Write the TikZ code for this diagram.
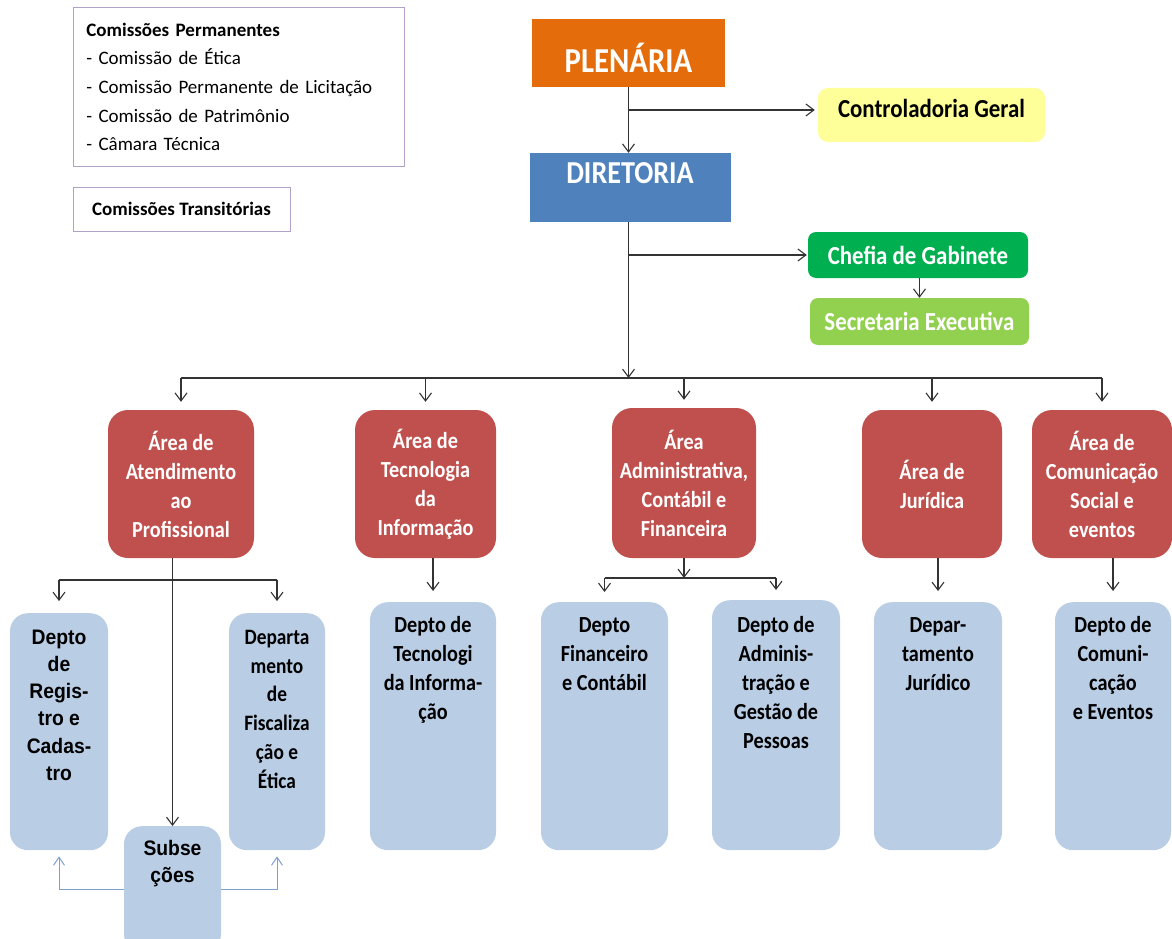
\documentclass[tikz,border=0pt]{standalone}
\usepackage{fontspec}
\setmainfont{Carlito}
\newfontfamily\narrowfont{Carlito}[FakeStretch=0.88]
\newfontfamily\arialnarrow{Liberation Sans}[FakeStretch=0.92]
\usetikzlibrary{arrows.meta}

\definecolor{plenorange}{HTML}{E46C0A}
\definecolor{dirblue}{HTML}{4F81BD}
\definecolor{ctrlyellow}{HTML}{FFFF99}
\definecolor{chefgreen}{HTML}{00B050}
\definecolor{secgreen}{HTML}{92D050}
\definecolor{areared}{HTML}{C0504D}
\definecolor{deptblue}{HTML}{B9CDE5}
\definecolor{lilac}{HTML}{B3A2C7}
\definecolor{subblue}{HTML}{7F9FCF}

\newcommand{\toplines}[4]{\parbox[t][#2][t]{#1}{\centering\rule{0pt}{#3}#4}}

\tikzset{
  conn/.style={black!80, line width=1.1pt},
  arr/.style={conn, -{Straight Barb[length=8pt,width=12pt]}},
  subarr/.style={subblue, line width=1pt, -{Straight Barb[length=8pt,width=11pt]}},
  comm/.style={draw=lilac, line width=0.8pt, inner xsep=13pt},
  topbox/.style={text=white, font=\narrowfont\bfseries\fontsize{26}{30}\selectfont},
  area/.style={fill=areared, text=white, rounded corners=20pt, align=center,
    font=\narrowfont\bfseries\fontsize{23}{29}\selectfont},
  dept/.style={fill=deptblue, rounded corners=18pt, inner sep=0pt, anchor=north,
    font=\narrowfont\bfseries\fontsize{23}{29}\selectfont},
  deptarial/.style={dept, font=\arialnarrow\bfseries\fontsize{21}{27.2}\selectfont}
}

\begin{document}
\begin{tikzpicture}[x=1pt,y=-1pt]
    \useasboundingbox (0,0) rectangle (1172,939);
    \fill[white] (0,0) rectangle (1172,939);
    \clip (0,0) rectangle (1172,939);

    \node[comm, anchor=north west, text width=305pt, minimum height=159pt, align=left,
      font=\fontsize{19}{28.7}\selectfont] (perm) at (73,7)
      {\textbf{Comissões Permanentes}\\- Comissão de Ética\\- Comissão Permanente de Licitação\\- Comissão de Patrimônio\\- Câmara Técnica};
    \node[comm, minimum width=217pt, minimum height=44pt, font=\bfseries\fontsize{19}{24}\selectfont] (trans) at (181.5,209) {Comissões Transitórias};

    \node[fill=plenorange, text=white, minimum width=193pt, minimum height=68pt, text height=39pt, text depth=0pt,
      font=\narrowfont\bfseries\fontsize{35}{40}\selectfont] (plen) at (628.5,53) {PLENÁRIA};
    \node[fill=dirblue, text=white, minimum width=201pt, minimum height=69pt, text height=21pt, text depth=29pt,
      font=\narrowfont\bfseries\fontsize{32}{36}\selectfont] (dir) at (630,187.5) {DIRETORIA};
    \node[topbox, fill=ctrlyellow, text=black, rounded corners=10pt, minimum width=227pt, minimum height=54pt,
      text height=17pt, text depth=12pt] (ctrl) at (931.5,115) {Controladoria Geral};
    \node[topbox, fill=chefgreen, rounded corners=8pt, minimum width=220pt, minimum height=46pt] (chefe) at (918,255) {Chefia de Gabinete};
    \node[topbox, fill=secgreen, rounded corners=8pt, minimum width=219pt, minimum height=47pt] (sec) at (919.5,321.5) {Secretaria Executiva};

    \node[area, minimum width=146pt, minimum height=148pt] (a1) at (181,484) {Área de\\Atendimento\\ao\\Profissional};
    \node[area, minimum width=141pt, minimum height=148pt] (a2) at (425.5,484) {Área de\\Tecnologia\\da\\Informação};
    \node[area, minimum width=144pt, minimum height=150pt] (a3) at (684,483) {Área\\Administrativa,\\Contábil e\\Financeira};
    \node[area, minimum width=140pt, minimum height=148pt] (a4) at (932,484) {Área de\\Jurídica};
    \node[area, minimum width=140pt, minimum height=148pt] (a5) at (1102,484) {Área de\\Comunicação\\Social e\\eventos};

    \node[deptarial] (d1) at (59,613) {\toplines{98pt}{237pt}{31pt}{Depto\\de\\Regis-\\tro e\\Cadas-\\tro}};
    \node[dept, font=\narrowfont\bfseries\fontsize{22}{28.8}\selectfont] (d2) at (277,613) {\toplines{96pt}{237pt}{31pt}{Departa\\mento\\de\\Fiscaliza\\ção e\\Ética}};
    \node[deptarial] (sub) at (172.5,826) {\toplines{97pt}{126pt}{29pt}{Subse\\ções}};
    \node[dept] (d3) at (433,602) {\toplines{126pt}{248pt}{30pt}{Depto de\\Tecnologi\\da Informa-\\ção}};
    \node[dept] (d4) at (604.5,602) {\toplines{127pt}{248pt}{30pt}{Depto\\Financeiro\\e Contábil}};
    \node[dept] (d5) at (776,600) {\toplines{128pt}{250pt}{32pt}{Depto de\\Adminis-\\tração e\\Gestão de\\Pessoas}};
    \node[dept] (d6) at (938,602) {\toplines{128pt}{248pt}{30pt}{Depar-\\tamento\\Jurídico}};
    \node[dept] (d7) at (1113,602) {\toplines{116pt}{248pt}{30pt}{Depto de\\Comuni-\\cação\\e Eventos}};

    \coordinate (bus) at (628.5,378);
    \coordinate (fork1) at (172.5,580);
    \coordinate (fork3) at (684,578);

    \draw[arr] (plen.south) -- (plen.south |- dir.north);
    \draw[arr, shorten >=3pt] (plen.south |- 0,110) -- (ctrl.west |- 0,110);
    \draw[arr] (plen.south |- dir.south) -- (bus);
    \draw[arr, shorten >=1pt] (bus |- chefe.west) -- (chefe.west);
    \draw[arr] (chefe.south -| sec.north) -- (sec.north);

    \draw[conn] (a1.north |- bus) -- (a5.north |- bus);
    \foreach \n in {a1,a2,a3,a4,a5}
        \draw[arr, shorten >=8pt] (\n.north |- bus) -- (\n.north);

    \draw[arr] (a1.south -| sub.north) -- (sub.north);
    \draw[conn] (d1.north |- fork1) -- (d2.north |- fork1);
    \draw[arr, shorten >=12pt] (d1.north |- fork1) -- (d1.north);
    \draw[arr, shorten >=12pt] (d2.north |- fork1) -- (d2.north);
    \draw[subarr, shorten >=6pt] (sub.west) -| (d1.south);
    \draw[subarr, shorten >=6pt] (sub.east) -| (d2.south);

    \draw[arr, shorten >=11pt] (a2.south -| d3.north) -- (d3.north);

    \draw[arr] (a3.south) -- (fork3);
    \draw[conn] (d4.north |- fork3) -- (d5.north |- fork3);
    \draw[arr, shorten >=10pt] (d4.north |- fork3) -- (d4.north);
    \draw[arr, shorten >=10pt] (d5.north |- fork3) -- (d5.north);

    \draw[arr, shorten >=11pt] (a4.south -| d6.north) -- (d6.north);
    \draw[arr, shorten >=11pt] (a5.south -| d7.north) -- (d7.north);
\end{tikzpicture}
\end{document}
